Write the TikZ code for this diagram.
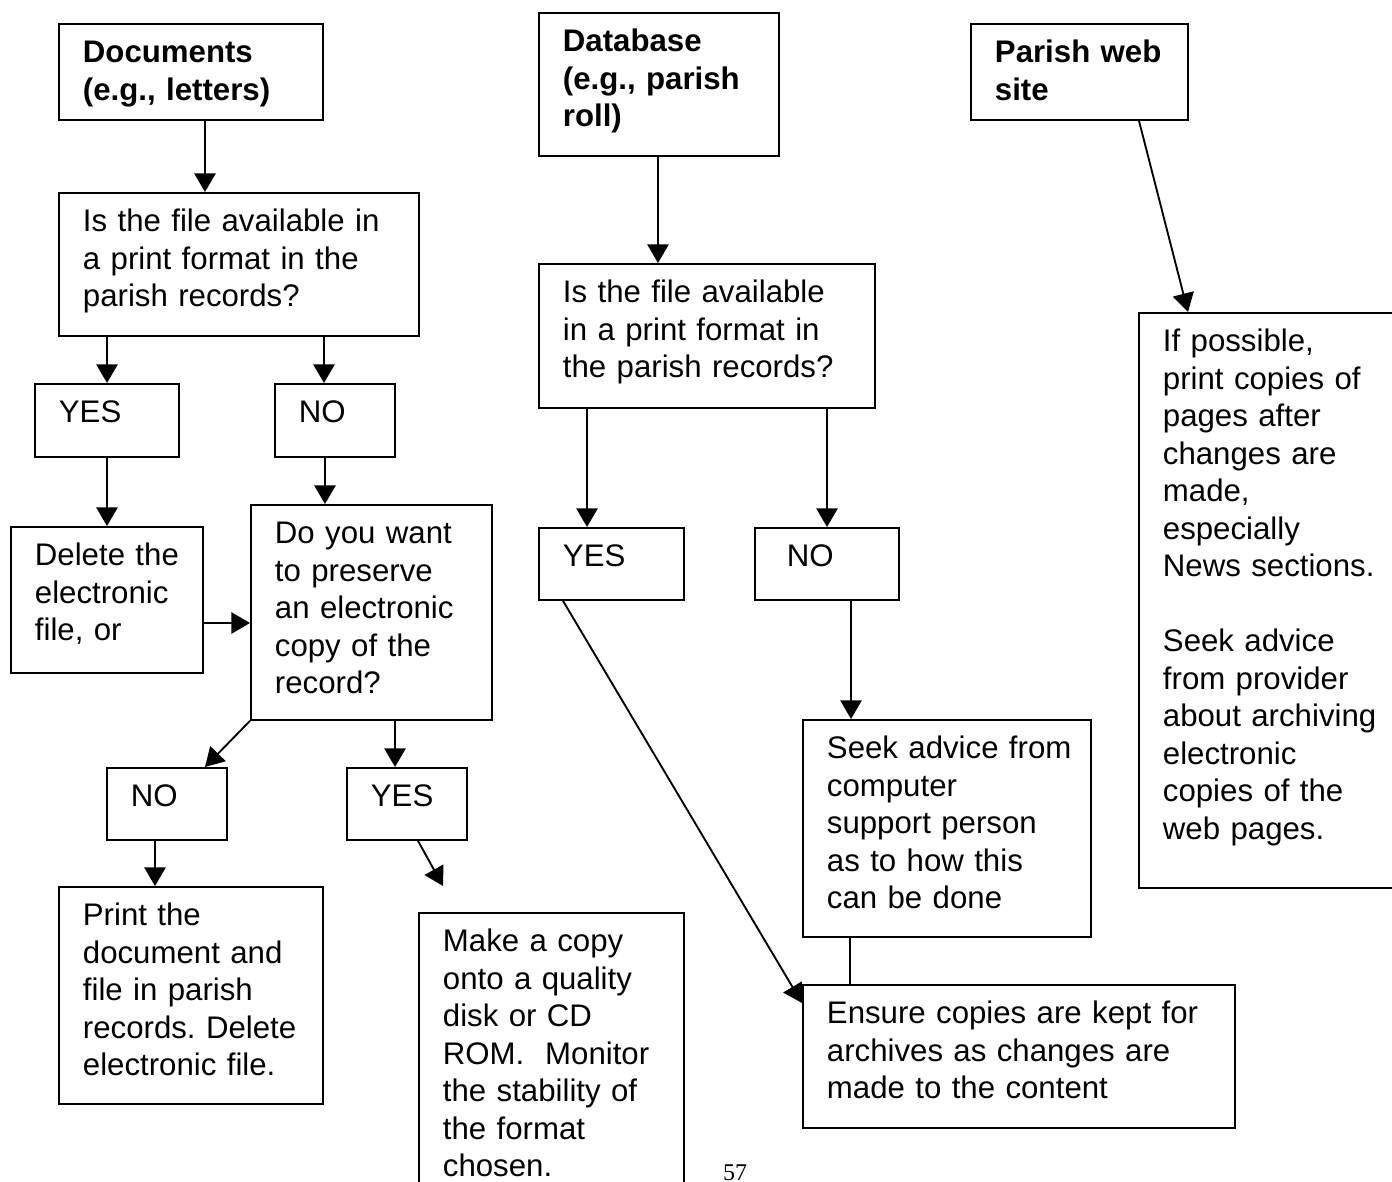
\documentclass[tikz,border=0pt]{standalone}
\usepackage{fontspec}
\setmainfont{Liberation Sans}
\newfontfamily\pagefont{Liberation Serif}
\usetikzlibrary{arrows.meta}
\frenchspacing

\begin{document}
\begin{tikzpicture}[x=0.375pt, y=-0.375pt]

\tikzstyle{box}=[draw, line width=0.7pt, anchor=north west, align=left, inner xsep=2.25pt, inner ysep=0pt, text height=14.625pt, font=\fontsize{11.7}{14.0625}\selectfont, execute at begin node={\leftskip=6.75pt}]
\tikzstyle{head}=[box, font=\fontsize{11.7}{14.0625}\selectfont\bfseries]
\tikzstyle{arrow}=[-{Triangle[length=7pt, width=8pt]}, line width=0.7pt]
\tikzstyle{link}=[line width=0.7pt]

\useasboundingbox (0,0) rectangle (1392,1182);

\node (doc) [head, text width=94.5pt, text depth=21.375pt] at (58,23) {Documents\\(e.g., letters)};
\node (db) [head, text width=85.5pt, text depth=39pt] at (538,12) {Database\\(e.g., parish\\roll)};
\node (web) [head, text width=76.875pt, text depth=21.375pt] at (970,23) {Parish web\\site};

\node (qa) [box, text width=130.5pt, text depth=39pt] at (58,192) {Is the file available in\\a print format in the\\parish records?};
\node (yesa) [box, text width=49.5pt, text depth=12.75pt] at (34,383) {YES};
\node (noa) [box, text width=40.5pt, text depth=12.75pt] at (274,383) {NO};
\node (del) [box, text width=67.5pt, text depth=40.125pt] at (10,526) {Delete the\\electronic\\file, or};
\node (keep) [box, text width=85.875pt, text depth=66pt] at (250,504) {Do you want\\to preserve\\an electronic\\copy of the\\record?};
\node (nob) [box, text width=40.5pt, text depth=12.375pt] at (106,767) {NO};
\node (yesb) [box, text width=40.5pt, text depth=12.375pt] at (346,767) {YES};
\node (print) [box, text width=94.5pt, text depth=66.75pt] at (58,886) {Print the\\document and\\file in parish\\records. Delete\\electronic file.};
\node (copy) [box, text width=94.875pt, text depth=94.125pt] at (418,912) {Make a copy\\onto a quality\\disk or CD\\ROM.\ \ Monitor\\the stability of\\the format\\chosen.};
\coordinate (copyin) at (443,886);

\node (qb) [box, text width=121.5pt, text depth=39.375pt] at (538,263) {Is the file available\\in a print format in\\the parish records?};
\node (yesc) [box, text width=49.875pt, text depth=12.375pt] at (538,527) {YES};
\node (noc) [box, text width=49.5pt, text depth=12.375pt] at (754,527) {\hspace*{3pt}NO};
\node (seek) [box, text width=103.5pt, text depth=66.75pt] at (802,719) {Seek advice from\\computer\\support person\\as to how this\\can be done};
\node (ens) [box, text width=157.5pt, text depth=39pt] at (802,984) {Ensure copies are kept for\\archives as changes are\\made to the content};

\node (site) [box, text width=100.5pt, text depth=201pt] at (1138,312) {If possible,\\print copies of\\pages after\\changes are\\made,\\especially\\News sections.\\[14.0625pt]Seek advice\\from provider\\about archiving\\electronic\\copies of the\\web pages.};

\node (page) [font=\pagefont\fontsize{9}{10}\selectfont, anchor=base, inner sep=0pt] at (735,1180) {57};

\draw [arrow] (doc.south -| 205,0) -- (qa.north -| 205,0);
\draw [arrow] (qa.south -| 107,0) -- (yesa.north -| 107,0);
\draw [arrow] (qa.south -| 324,0) -- (noa.north -| 324,0);
\draw [arrow] (yesa.south -| 107,0) -- (del.north -| 107,0);
\draw [arrow] (noa.south -| 325,0) -- (keep.north -| 325,0);
\draw [arrow] (del.east |- 0,623) -- (keep.west |- 0,623);
\draw [arrow] (keep.south west) -- (nob.north -| 205,0);
\draw [arrow] (keep.south -| 395,0) -- (yesb.north -| 395,0);
\draw [arrow] (nob.south -| 155,0) -- (print.north -| 155,0);
\draw [arrow] (yesb.south -| 418,0) -- (copyin);

\draw [arrow] (db.south -| 658,0) -- (qb.north -| 658,0);
\draw [arrow] (qb.south -| 587,0) -- (yesc.north -| 587,0);
\draw [arrow] (qb.south -| 827,0) -- (noc.north -| 827,0);
\draw [arrow] (yesc.south -| 563,0) -- (ens.west |- 0,1003);
\draw [arrow] (noc.south -| 851,0) -- (seek.north -| 851,0);
\draw [link] (seek.south -| 850,0) -- (ens.north -| 850,0);

\draw [arrow] (web.south -| 1139,0) -- (site.north -| 1188,0);

\end{tikzpicture}
\end{document}
